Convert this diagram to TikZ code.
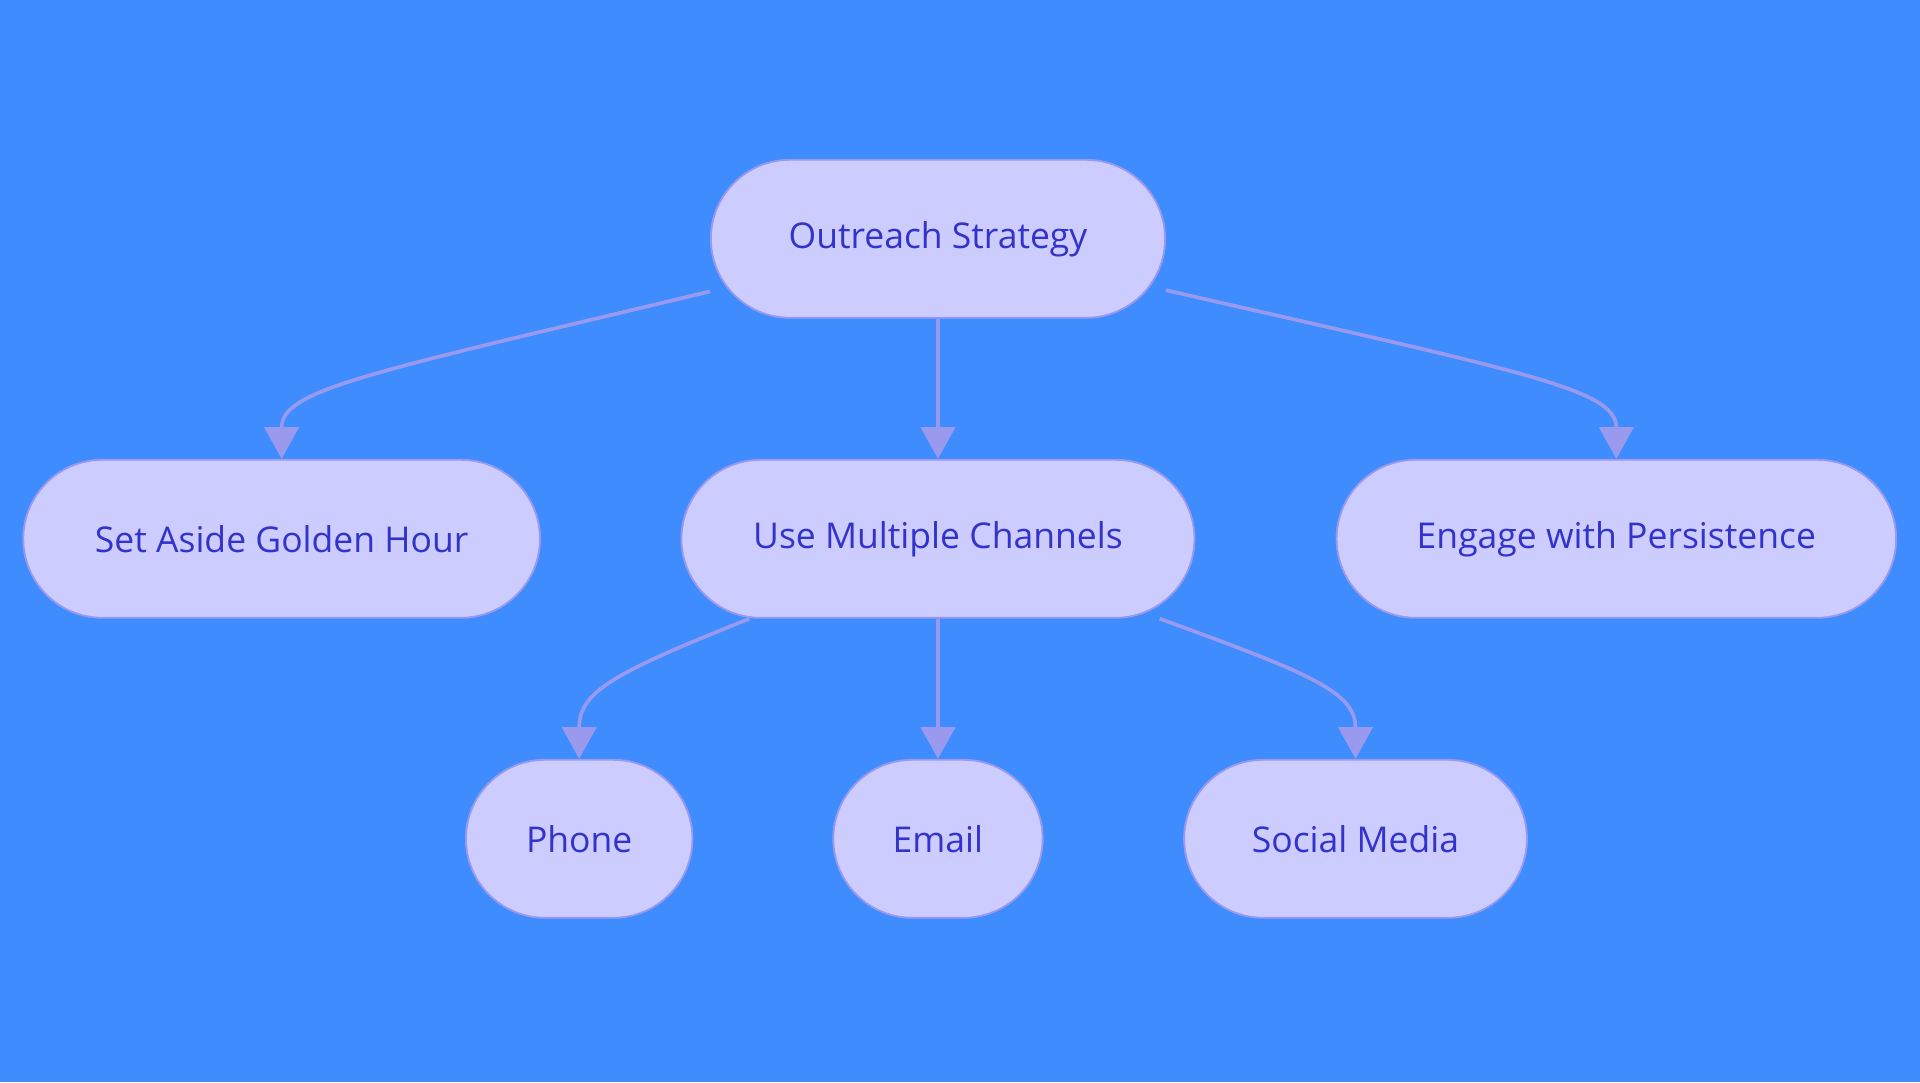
\documentclass[tikz,border=0pt]{standalone}
\usepackage{fontspec}
\setmainfont{Open Sans}
\usetikzlibrary{shapes.misc,arrows.meta,calc}
\definecolor{bg}{HTML}{3F8CFF}
\definecolor{nf}{HTML}{CCCCFF}
\definecolor{nd}{HTML}{9999EE}
\definecolor{tx}{HTML}{3333CC}
\begin{document}
\begin{tikzpicture}[x=1pt,y=-1pt,
 box/.style={rounded rectangle,fill=nf,draw=nd,line width=1.5pt,minimum height=129pt,text=tx,font=\fontsize{29}{34}\selectfont,inner sep=0pt},
 ar/.style={draw=nd,line width=3pt,-{Triangle[length=26pt,width=28pt]}}]
\fill[bg] (0,0) rectangle (1568,884);
\useasboundingbox (0,0) rectangle (1568,884);
\node[box,minimum width=371pt] (o) at (766,195) {Outreach Strategy};
\node[box,minimum width=422pt] (g) at (230,440) {Set Aside Golden Hour};
\node[box,minimum width=419pt] (m) at (766,440) {Use Multiple Channels};
\node[box,minimum width=457pt] (p) at (1320,440) {Engage with Persistence};
\node[box,minimum width=185pt] (ph) at (473,685) {Phone};
\node[box,minimum width=171pt] (e) at (766,685) {Email};
\node[box,minimum width=280pt] (s) at (1107,685) {Social Media};
\draw[ar] ($(o.west)+(0,43)$) .. controls (300,305) and (230,318) .. (g.north);
\draw[ar] (o.south) -- (m.north);
\draw[ar] ($(o.east)+(0,42)$) .. controls (1250,305) and (1320,318) .. (p.north);
\draw[ar] ($(m.south)+(-154,0)$) .. controls (500,550) and (473,565) .. (ph.north);
\draw[ar] (m.south) -- (e.north);
\draw[ar] ($(m.south)+(181,0)$) .. controls (1070,550) and (1107,565) .. (s.north);
\end{tikzpicture}
\end{document}
